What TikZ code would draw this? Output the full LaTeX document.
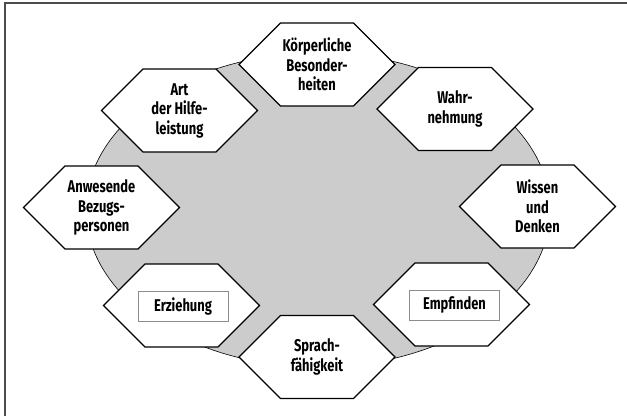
\documentclass[tikz,border=0pt]{standalone}
\usepackage{fontspec}
\setmainfont{Fira Sans}[FakeStretch=0.76]
\usepackage{tikz}
\usetikzlibrary{shapes}
\tikzset{
field/.style={x=1pt,y=-1pt,line join=miter},
hexa/.style={signal,signal to=east and west,signal pointer angle=90,
    draw,fill=white,line width=1.1pt,minimum width=156pt,minimum height=83pt,
    inner sep=0pt,align=center,font=\bfseries\fontsize{17}{19.5}\selectfont},
centre/.style={ellipse,draw,fill=gray!40,line width=0.6pt,
    minimum width=464pt,minimum height=314pt,inner sep=0pt},
tag/.style={draw=gray!90,line width=0.7pt,minimum width=90pt,minimum height=30pt,
    inner sep=0pt,font=\bfseries\fontsize{17}{19.5}\selectfont},
}

\begin{document}
\begin{tikzpicture}[field]
    \useasboundingbox (0,0) rectangle (627,416);
    \draw[black!70,line width=1.6pt] (4.8,416) -- (4.8,3.2) -- (627,3.2);

    \node[centre] (0) at (318,210) {};

    \node[hexa] (1) at (317,64.5) {Körperliche\\Besonder-\\heiten};
    \node[hexa] (2) at (179.5,110.5) {Art\\der Hilfe-\\leistung};
    \node[hexa] (3) at (455,109) {Wahr-\\nehmung};
    \node[hexa] (4) at (101.5,207.5) {Anwesende\\Bezugs-\\personen};
    \node[hexa] (5) at (537.5,206.5) {Wissen\\und\\Denken};
    \node[hexa] (6) at (181.5,305.5) {};
    \node[hexa] (7) at (451.5,304.5) {};
    \node[hexa] (8) at (317,357) {Sprach-\\fähigkeit};

    \node[tag] (6a) at (183,306) {Erziehung};
    \node[tag] (7a) at (454.5,305) {Empfinden};
\end{tikzpicture}
\end{document}
